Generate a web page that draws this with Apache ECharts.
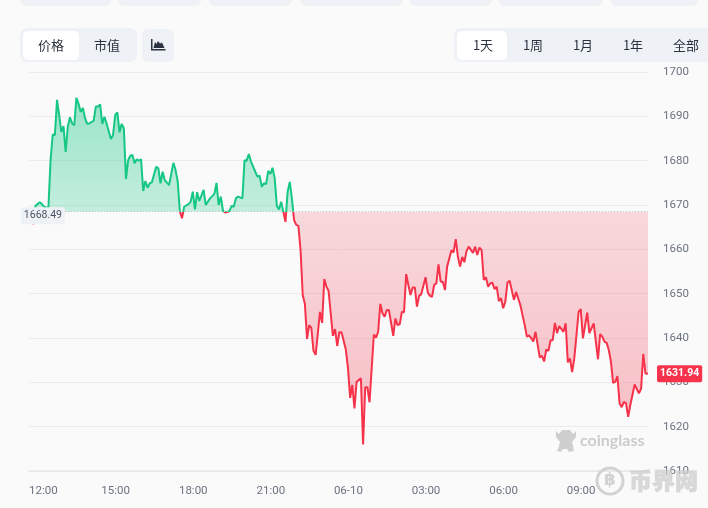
<!DOCTYPE html>
<html>
<head>
<meta charset="utf-8">
<style>html,body{margin:0;padding:0;background:#fafafa}#c{width:708px;height:508px}</style>
<script src="https://cdn.jsdelivr.net/npm/echarts@6/dist/echarts.min.js"></script>
</head>
<body>
<div id="c"></div>
<script>
const basePrice = 1668.49;
const lastPrice = 1631.94;
const minutes = [0,10,15,25,30,35,45,50,55,60,65,70,75,80,85,90,95,100,105,110,115,120,125,130,135,140,150,155,160,165,170,175,180,190,195,200,205,210,215,220,225,230,235,240,245,250,255,260,265,270,275,280,285,295,300,305,310,315,325,335,340,345,350,355,360,370,375,380,385,390,395,405,410,420,430,435,440,445,450,455,465,470,475,480,485,495,500,505,510,515,525,530,535,540,545,550,555,560,565,570,575,580,585,590,595,600,605,610,615,620,625,630,635,640,645,650,655,660,665,675,680,685,690,695,705,710,715,720,725,735,740,745,750,755,760,770,775,780,785,790,800,805,810,815,820,825,830,835,845,850,855,860,865,870,875,880,885,890,895,900,905,910,920,925,930,935,940,945,950,955,960,965,970,980,985,990,995,1000,1005,1010,1015,1020,1030,1035,1040,1045,1050,1055,1060,1065,1070,1075,1080,1085,1090,1095,1100,1105,1110,1115,1125,1130,1140,1150,1155,1160,1165,1170,1175,1185,1190,1195,1200,1205,1210,1215,1220,1225,1230,1240,1245,1250,1255,1260,1265,1275,1280,1285,1295,1300,1310,1320,1325,1330,1335,1340,1345,1350,1355,1360,1365,1370,1375,1380,1385,1390,1395,1405,1410,1415,1420,1425,1430,1436];
const prices = [1668.4,1665.7,1669.8,1670.6,1670.2,1669.6,1669.3,1680.1,1685.9,1685.8,1693.7,1690.3,1686.5,1687.8,1682.0,1687.7,1689.8,1688.4,1688.0,1694.2,1692.8,1691.0,1691.9,1689.6,1688.3,1688.4,1689.0,1692.2,1692.2,1692.7,1688.3,1689.9,1688.4,1684.9,1685.8,1690.3,1690.9,1686.4,1688.3,1687.3,1675.9,1680.1,1681.1,1681.3,1679.4,1680.3,1680.0,1680.3,1673.2,1675.4,1673.9,1674.9,1675.1,1678.6,1678.3,1674.9,1677.5,1675.6,1674.5,1679.5,1677.9,1675.3,1668.5,1667.0,1669.6,1670.2,1670.7,1673.0,1669.0,1672.9,1670.9,1673.4,1670.0,1671.5,1672.5,1675.0,1670.0,1671.9,1668.7,1668.3,1668.6,1669.8,1669.6,1671.5,1671.9,1671.5,1680.1,1680.0,1681.5,1679.8,1677.5,1676.4,1676.6,1674.1,1674.9,1674.7,1677.7,1677.0,1678.4,1676.0,1669.8,1669.0,1670.7,1668.5,1666.2,1673.0,1675.2,1671.4,1666.6,1665.5,1665.3,1659.8,1649.7,1647.7,1639.8,1642.9,1642.3,1637.1,1636.2,1645.9,1643.4,1653.3,1651.6,1650.6,1640.5,1642.0,1638.2,1641.3,1641.3,1637.4,1633.2,1626.5,1629.4,1624.1,1630.1,1630.9,1616.0,1628.9,1628.9,1625.5,1640.8,1640.1,1641.4,1647.7,1645.6,1644.8,1646.3,1646.3,1640.5,1644.4,1642.9,1643.1,1645.9,1645.8,1654.4,1652.0,1649.7,1651.4,1651.4,1647.1,1649.5,1649.9,1653.7,1650.3,1649.5,1649.3,1652.0,1652.3,1656.6,1652.7,1652.7,1650.8,1656.1,1659.8,1659.3,1662.3,1658.3,1656.1,1658.3,1657.1,1659.6,1660.6,1659.2,1660.6,1658.7,1660.4,1659.8,1653.1,1653.7,1651.6,1652.3,1652.5,1651.0,1651.6,1648.3,1649.0,1646.7,1648.2,1652.5,1652.9,1648.6,1650.4,1647.4,1642.9,1640.3,1640.6,1640.0,1639.2,1641.4,1635.6,1636.0,1634.7,1637.4,1637.1,1639.5,1639.5,1643.4,1641.1,1642.7,1641.4,1643.3,1634.5,1635.4,1632.3,1635.4,1645.9,1646.5,1639.9,1645.7,1641.1,1643.3,1635.2,1640.9,1640.3,1639.2,1638.9,1637.3,1634.7,1629.9,1630.1,1631.4,1625.3,1624.4,1625.6,1625.3,1622.2,1624.9,1629.5,1628.5,1627.5,1628.6,1636.4,1632.0,1631.94];
const tickMinutes = [0,201,381,561,741,921,1101,1281];
const tickLabels = ['12:00','15:00','18:00','21:00','06-10','03:00','06:00','09:00'];
const priceTicks = {min:1610,max:1700,step:10};
const metricTabs = ['价格','市值'];
const rangeTabs = ['1天','1周','1月','1年','全部'];

const UP='#16c784', DOWN='#f6334b', PILL='#eef1f5';
const CJK='"Noto Sans CJK SC","Noto Sans",sans-serif';
const NUM='Roboto,"Noto Sans",sans-serif';

const hi=Math.max(...prices), lo=Math.min(...prices);
const split=(hi-basePrice)/(hi-lo);

function pill(x,y,w,h,r,fill){return {type:'rect',silent:true,z:1,shape:{x,y,width:w,height:h,r},style:{fill}};}
function label(text,x,y,o){return Object.assign({type:'text',silent:true,z:3,x,y,style:Object.assign({text,fill:'#2b3340',font:'13px '+CJK,textAlign:'center',textVerticalAlign:'middle'},o||{})});}

const graphics=[
  pill(20,-10,91,16,6,PILL),pill(118,-10,83,16,6,PILL),pill(209,-10,83,16,6,PILL),pill(300,-10,103,16,6,PILL),
  pill(410,-10,82,16,6,PILL),pill(499,-10,104,16,6,PILL),pill(611,-10,87,16,6,PILL),
  pill(20,28,117,34,7,PILL),pill(23,31,56,29,5,'#ffffff'),
  pill(142,29,32,33,6,PILL),
  pill(454,28,270,34,7,PILL),pill(457,31,50,29,5,'#ffffff'),
  label(metricTabs[0],51,45.5),label(metricTabs[1],107,45.5),
  label(rangeTabs[0],483,45.5),label(rangeTabs[1],533,45.5),label(rangeTabs[2],583,45.5),label(rangeTabs[3],633,45.5),label(rangeTabs[4],686,45.5),
  {type:'polygon',silent:true,z:3,shape:{points:[[151,39],[152.5,39],[152.5,49],[165.5,49],[165.5,50.5],[151,50.5]]},style:{fill:'#2b3340'}},
  {type:'polygon',silent:true,z:3,shape:{points:[[153.5,48],[155,42],[156.5,44],[158,41],[160,43.5],[162,42.5],[164.5,48]]},style:{fill:'#2b3340'}},
  {type:'polygon',silent:true,z:4,shape:{points:[[556,431],[559,434],[562,430],[570,430],[573,434],[576,431],[576,437],[572,442],[573,446],[574,451],[569,452],[567,449],[563,449],[561,452],[557,451],[559,446],[560,442],[556,437]]},style:{fill:'#cfcfcf'}},
  {type:'text',silent:true,z:4,x:580,y:440.5,style:{text:'coinglass',fill:'#cccccc',font:'bold 16px Lato,"Noto Sans",sans-serif',textVerticalAlign:'middle'}},
  {type:'circle',silent:true,z:4,shape:{cx:610,cy:481,r:13},style:{fill:'none',stroke:'#d2d2d2',lineWidth:3}},
  {type:'text',silent:true,z:4,x:610,y:481,style:{text:'฿',fill:'#d2d2d2',font:'bold 17px "DejaVu Sans"',textAlign:'center',textVerticalAlign:'middle'}},
  {type:'text',silent:true,z:4,x:629,y:480,style:{text:'币界网',fill:'rgba(205,205,205,0.75)',stroke:'rgba(205,205,205,0.5)',lineWidth:1,font:'900 23px "Noto Sans CJK SC"',textVerticalAlign:'middle'}}
];

const chart=echarts.init(document.getElementById('c'),null,{renderer:'canvas'});
chart.setOption({
  animation:false,
  backgroundColor:'#fafafa',
  grid:{left:29,right:60,top:72,bottom:37},
  xAxis:{
    type:'value',min:0,max:1436,
    axisLine:{show:true,lineStyle:{color:'#e6e6e6',width:1.5}},
    axisTick:{show:false},
    splitLine:{show:false},
    axisLabel:{
      customValues:tickMinutes,
      alignMinLabel:'left',
      color:'#6b7280',fontSize:11.5,fontFamily:NUM,margin:14,
      formatter:v=>tickLabels[tickMinutes.indexOf(v)]
    }
  },
  yAxis:{
    type:'value',position:'right',min:priceTicks.min,max:priceTicks.max,interval:priceTicks.step,
    axisLine:{show:false},axisTick:{show:false},
    splitLine:{lineStyle:{color:'#ececec',width:1}},
    axisLabel:{color:'#6b7280',fontSize:11.5,fontFamily:NUM,margin:15,align:'left',padding:[2,0,0,0],formatter:v=>String(v)}
  },
  visualMap:{
    show:false,type:'piecewise',dimension:1,seriesIndex:0,
    pieces:[{min:1500,max:basePrice,color:DOWN},{min:basePrice,max:1800,color:UP}]
  },
  series:[{
    type:'line',
    data:minutes.map((t,i)=>[t,prices[i]]),
    showSymbol:false,symbol:'none',z:2,
    lineStyle:{width:2},
    areaStyle:{
      origin:basePrice,opacity:1,
      color:new echarts.graphic.LinearGradient(0,0,0,1,[
        {offset:0,color:'rgba(22,199,132,0.42)'},
        {offset:split,color:'rgba(22,199,132,0.24)'},
        {offset:split,color:'rgba(238,50,72,0.17)'},
        {offset:1,color:'rgba(238,50,72,0.30)'}
      ])
    },
    markLine:{
      silent:true,symbol:'none',animation:false,precision:2,
      data:[
        {yAxis:basePrice,
         lineStyle:{color:'#c4c4c4',type:[1,2],width:1},
         label:{show:true,position:'start',distance:0,offset:[36,4],formatter:()=>basePrice.toFixed(2),
           color:'#4b5563',fontSize:10.5,fontFamily:NUM,backgroundColor:PILL,borderRadius:3,padding:[3,3,3,3]}},
        {yAxis:lastPrice,
         lineStyle:{color:'transparent',width:0},
         label:{show:true,position:'end',distance:9,formatter:()=>lastPrice.toFixed(2),
           color:'#ffffff',fontSize:10.5,fontWeight:'bold',fontFamily:NUM,backgroundColor:DOWN,borderRadius:2,padding:[3,3,3,3]}}
      ]
    }
  }],
  graphic:graphics
});
</script>
</body>
</html>
